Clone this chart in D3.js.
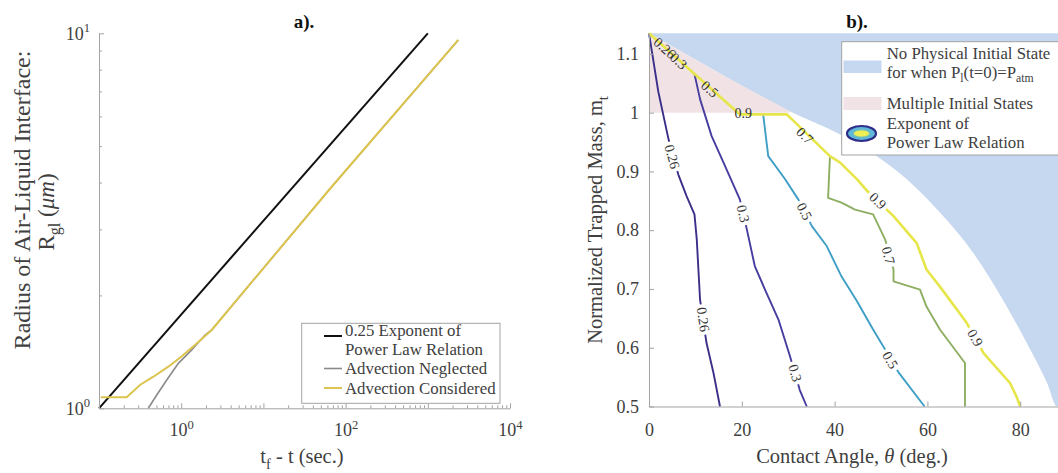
<!DOCTYPE html>
<html><head><meta charset="utf-8">
<script src="https://cdn.jsdelivr.net/npm/d3@7"></script>
<style>
body{margin:0;background:#fff}
svg{display:block}
text{font-family:"Liberation Serif","Times New Roman",serif}
</style>
</head><body>
<svg id="c" width="1058" height="473"></svg>
<script>
// ---------- Panel a) data ----------
const powerLawT = [0.1, 1000];
const powerLawR = [1, 10];
const neglectedT = [0.398, 0.504, 0.667, 0.923, 1.343, 1.95, 2.35, 64.6, 2350];
const neglectedR = [1.0, 1.085, 1.19, 1.318, 1.431, 1.568, 1.618, 3.85, 9.6];
const consideredT = [0.105, 0.217, 0.315, 0.458, 0.697, 1.0, 1.47, 2.35, 64.6, 2350];
const consideredR = [1.07, 1.07, 1.154, 1.214, 1.291, 1.373, 1.475, 1.618, 3.85, 9.6];
const xMajorTicksL = [0.1, 1, 10, 100, 1000, 10000];
const xLabelledTicksL = [1, 100, 10000];
const yTicksL = [1, 10];
const legendA = ["0.25 Exponent of|Power Law Relation", "Advection Neglected", "Advection Considered"];

// ---------- Panel b) data ----------
const boundaryTheta = [0, 15, 30.4, 41.2, 48.3, 55.5, 62.7, 69.9, 77.1, 81.4, 85.8, 88, 90];
const boundaryMass  = [1.135, 1.068, 1.002, 0.963, 0.930, 0.887, 0.830, 0.761, 0.670, 0.608, 0.540, 0.5, 0.5];
const multipleTheta = [0, 15, 30.4];
const multipleMass  = [1.135, 1.068, 1.002];
const multipleFloor = 1.0;
const levels = ["0.26", "0.3", "0.5", "0.7", "0.9"];
const c026 = [[0,1.135],[2.0,1.036],[4.2,0.955],[6.3,0.895],[8.1,0.858],[9.8,0.827],[10.3,0.784],[11.0,0.682],[12.4,0.608],[13.9,0.557],[15.3,0.5]];
const c03  = [[9.8,1.066],[11.0,1.023],[13.5,0.960],[16.4,0.909],[19.6,0.852],[21.1,0.801],[22.8,0.739],[25.0,0.699],[27.9,0.648],[30.4,0.585],[32.5,0.528],[34.0,0.5]];
const c05  = [[24.6,0.997],[25.7,0.926],[29.3,0.887],[32.2,0.852],[35.1,0.807],[38.3,0.773],[41.5,0.721],[44.6,0.682],[48.3,0.631],[50.5,0.602],[53.7,0.559],[59.1,0.503],[59.4,0.5]];
const c07  = [[39.0,0.926],[38.6,0.855],[41.5,0.847],[44.4,0.835],[48.3,0.827],[50.9,0.784],[52.7,0.733],[52.7,0.713],[58.4,0.699],[59.8,0.670],[62.7,0.631],[68.1,0.574],[68.1,0.5]];
const c09  = [[0,1.135],[19.6,0.997],[29.7,0.997],[39.0,0.926],[41.2,0.915],[44.8,0.887],[47.0,0.867],[52.7,0.824],[57.7,0.778],[59.8,0.733],[62.7,0.704],[68.5,0.642],[72.1,0.591],[77.8,0.540],[79.2,0.517],[80.0,0.5]];
const lab026 = [[5.0,0.925],[11.7,0.648]];
const lab03  = [[20.3,0.828],[31.5,0.557]];
const lab05  = [[33.5,0.832],[52.0,0.579]];
const lab07  = [[51.6,0.757]];
const lab09  = [[49.3,0.850],[70.3,0.617]];
const bandLabelText  = ["0.26", "0.3", "0.5", "0.9", "0.7"];
const bandLabelTheta = [3.4, 6.4, 13.1, 20.3, 33.6];
const bandLabelMass  = [1.110, 1.088, 1.040, 0.999, 0.961];
const xTicksR = [0, 20, 40, 60, 80];
const yTicksR = [0.5, 0.6, 0.7, 0.8, 0.9, 1.0, 1.1];
const legendB = ["No Physical Initial State", "for when P", "Multiple Initial States", "Exponent of", "Power Law Relation"];

// ---------- styles ----------
const TXT = "#404040", AX = "#a3a3a3";
const FS_TICK = 18, FS_LAB = 20.5, FS_YLAB_A = 24, FS_LEG = 16.8, FS_TITLE = 19, FS_CL = 14;
const contourColors = ["#3b3089", "#463d9f", "#3f9fc6", "#8eae62", "#e6e64a"];
const BLUE = "#c6d8f0", PINK = "#f1e3e5";

const svg = d3.select("#c");

function rich(sel, parts, fs) {
  let shift = 0;
  parts.forEach(p => {
    const ts = sel.append("tspan").text(p.t);
    let target = 0, size = fs;
    if (p.sub) { target = 0.28 * fs; size = 0.7 * fs; }
    if (p.sup) { target = -0.42 * fs; size = 0.7 * fs; }
    if (target !== shift) { ts.attr("dy", target - shift); shift = target; }
    if (size !== fs) ts.attr("font-size", size);
    if (p.it) ts.attr("font-style", "italic");
  });
  return sel;
}

// ================= Panel a =================
const xL = d3.scaleLog().domain([0.1, 1e4]).range([99, 510]);
const yL = d3.scaleLog().domain([1, 10]).range([408.3, 33.3]);
const lineL = d3.line().x(d => xL(d[0])).y(d => yL(d[1]));
const gA = svg.append("g");

gA.append("path").datum(powerLawT.map((t, i) => [t, powerLawR[i]]))
  .attr("d", lineL).attr("fill", "none").attr("stroke", "#111").attr("stroke-width", 2);
gA.append("path").datum(neglectedT.map((t, i) => [t, neglectedR[i]]))
  .attr("d", lineL).attr("fill", "none").attr("stroke", "#8a8a8a").attr("stroke-width", 1.6);
gA.append("path").datum(consideredT.map((t, i) => [t, consideredR[i]]))
  .attr("d", lineL).attr("fill", "none").attr("stroke", "#dcc44e").attr("stroke-width", 2);

const minorX = [], minorY = [];
for (let e = -1; e < 4; e++) for (let k = 2; k <= 9; k++) minorX.push(k * Math.pow(10, e));
for (let k = 2; k <= 9; k++) minorY.push(k);

const axXL = gA.append("g").attr("transform", "translate(0,408.3)")
  .call(d3.axisBottom(xL).tickValues(xMajorTicksL).tickSizeInner(-5).tickSizeOuter(0).tickPadding(15).tickFormat(() => ""));
gA.append("g").attr("transform", "translate(0,408.3)")
  .call(d3.axisBottom(xL).tickValues(minorX).tickSizeInner(-3).tickSizeOuter(0).tickFormat(() => ""))
  .call(g => g.select(".domain").remove());
axXL.selectAll(".tick text").each(function(d) {
  if (xLabelledTicksL.indexOf(d) < 0) return;
  rich(d3.select(this), [{t: "10"}, {t: String(Math.round(Math.log10(d))), sup: true}], FS_TICK);
});
const axYL = gA.append("g").attr("transform", "translate(99,0)")
  .call(d3.axisLeft(yL).tickValues(yTicksL).tickSizeInner(-5).tickSizeOuter(0).tickPadding(9).tickFormat(() => ""));
gA.append("g").attr("transform", "translate(99,0)")
  .call(d3.axisLeft(yL).tickValues(minorY).tickSizeInner(-3).tickSizeOuter(0).tickFormat(() => ""))
  .call(g => g.select(".domain").remove());
axYL.selectAll(".tick text").each(function(d) {
  rich(d3.select(this), [{t: "10"}, {t: String(Math.round(Math.log10(d))), sup: true}], FS_TICK);
});

gA.append("text").attr("x", 304).attr("y", 28).attr("text-anchor", "middle")
  .attr("font-size", FS_TITLE).attr("font-weight", "bold").attr("fill", "#111").text("a).");
rich(gA.append("text").attr("x", 302).attr("y", 463).attr("text-anchor", "middle")
  .attr("font-size", FS_LAB).attr("fill", TXT),
  [{t: "t"}, {t: "f", sub: true}, {t: " - t (sec.)"}], FS_LAB);
gA.append("text").attr("transform", "translate(30,200) rotate(-90)").attr("text-anchor", "middle")
  .attr("font-size", FS_YLAB_A).attr("fill", TXT).text("Radius of Air-Liquid Interface:");
rich(gA.append("text").attr("transform", "translate(54,212) rotate(-90)").attr("text-anchor", "middle")
  .attr("font-size", 23).attr("fill", TXT),
  [{t: "R"}, {t: "gl", sub: true}, {t: " ("}, {t: "μm", it: true}, {t: ")"}], 23);

// legend a
const legA = gA.append("g");
legA.append("rect").attr("x", 301.7).attr("y", 323.3).attr("width", 198.3).attr("height", 80)
  .attr("fill", "#fff").attr("stroke", AX).attr("stroke-width", 1);
const legAy = [336, 374, 393.5];
const legAline = [336, 368.5, 388];
const legAcol = ["#111", "#8a8a8a", "#dcc44e"];
const legAw = [2, 1.6, 2];
legendA.forEach((s, i) => {
  legA.append("line").attr("x1", 324).attr("x2", 342).attr("y1", legAline[i]).attr("y2", legAline[i])
    .attr("stroke", legAcol[i]).attr("stroke-width", legAw[i]);
  s.split("|").forEach((ln, j) => {
    legA.append("text").attr("x", 345).attr("y", legAy[i] + j * 18.5).attr("font-size", FS_LEG)
      .attr("fill", TXT).text(ln);
  });
});

// ================= Panel b =================
const xR = d3.scaleLinear().domain([0, 90]).range([649, 1066.6]);
const yR = d3.scaleLinear().domain([0.5, 1.135]).range([406.5, 33.3]);
const gB = svg.append("g");

const blueArea = d3.area().x(d => xR(d[0])).y0(yR(1.135)).y1(d => yR(d[1])).curve(d3.curveMonotoneX);
gB.append("path").attr("d", blueArea(boundaryTheta.map((t, i) => [t, boundaryMass[i]]))).attr("fill", BLUE);
const pinkArea = d3.area().x(d => xR(d[0])).y0(yR(multipleFloor)).y1(d => yR(d[1])).curve(d3.curveMonotoneX);
gB.append("path").attr("d", pinkArea(multipleTheta.map((t, i) => [t, multipleMass[i]]))).attr("fill", PINK);

const contours = [c026, c03, c05, c07, c09];
const contourLabels = [lab026, lab03, lab05, lab07, lab09];
const lineC = d3.line().x(d => xR(d[0])).y(d => yR(d[1]));
contours.forEach((c, i) => {
  gB.append("path").attr("d", lineC(c)).attr("fill", "none")
    .attr("stroke", contourColors[i]).attr("stroke-width", i === 4 ? 2.6 : 1.9)
    .attr("stroke-linejoin", "round");
});

function angleOn(poly, p) {
  const px = xR(p[0]), py = yR(p[1]);
  let best = 1e9, ang = 0;
  for (let i = 0; i < poly.length - 1; i++) {
    const ax = xR(poly[i][0]), ay = yR(poly[i][1]), bx = xR(poly[i+1][0]), by = yR(poly[i+1][1]);
    const dx = bx - ax, dy = by - ay, L2 = dx*dx + dy*dy || 1;
    let u = ((px-ax)*dx + (py-ay)*dy) / L2; u = Math.max(0, Math.min(1, u));
    const qx = ax + u*dx, qy = ay + u*dy, dd = (px-qx)**2 + (py-qy)**2;
    if (dd < best) { best = dd; let a = Math.atan2(dy, dx) * 180 / Math.PI; if (a > 90) a -= 180; if (a < -90) a += 180; ang = a; }
  }
  return ang;
}
function clabel(txt, p, poly, gap) {
  const g = gB.append("g").attr("transform", `translate(${xR(p[0])},${yR(p[1])}) rotate(${angleOn(poly, p)})`);
  const r = g.append("rect");
  const t = g.append("text").attr("text-anchor", "middle").attr("dy", "0.34em")
    .attr("font-size", FS_CL).attr("fill", "#333").text(txt);
  if (gap) {
    const w = t.node().getComputedTextLength() + 6;
    r.attr("x", -w/2).attr("y", -6).attr("width", w).attr("height", 12).attr("fill", "#fff");
  } else r.remove();
}
contourLabels.forEach((labs, i) => labs.forEach(p => clabel(levels[i], p, contours[i], true)));
bandLabelText.forEach((s, i) => clabel(s, [bandLabelTheta[i], bandLabelMass[i]], c09, false));

gB.append("g").attr("transform", "translate(0,406.5)")
  .call(d3.axisBottom(xR).tickValues(xTicksR).tickSizeInner(-5).tickSizeOuter(0).tickPadding(16.5).tickFormat(d3.format("d")));
gB.append("g").attr("transform", "translate(649,0)")
  .call(d3.axisLeft(yR).tickValues(yTicksR).tickSizeInner(-5).tickSizeOuter(0).tickPadding(10).tickFormat(d3.format("~g")));

gB.append("text").attr("x", 857).attr("y", 28).attr("text-anchor", "middle")
  .attr("font-size", FS_TITLE).attr("font-weight", "bold").attr("fill", "#111").text("b).");
rich(gB.append("text").attr("x", 852).attr("y", 463).attr("text-anchor", "middle")
  .attr("font-size", FS_LAB).attr("fill", TXT),
  [{t: "Contact Angle, "}, {t: "θ", it: true}, {t: " (deg.)"}], FS_LAB);
rich(gB.append("text").attr("transform", "translate(602,220) rotate(-90)").attr("text-anchor", "middle")
  .attr("font-size", FS_LAB).attr("fill", TXT),
  [{t: "Normalized Trapped Mass, m"}, {t: "t", sub: true}], FS_LAB);

// legend b
const legB = gB.append("g");
legB.append("rect").attr("x", 841.7).attr("y", 41.7).attr("width", 222).attr("height", 113.3)
  .attr("fill", "#fff").attr("stroke", AX).attr("stroke-width", 1);
legB.append("rect").attr("x", 843.5).attr("y", 60.5).attr("width", 38).attr("height", 12.5).attr("fill", BLUE);
legB.append("rect").attr("x", 843.5).attr("y", 97).attr("width", 38).attr("height", 13).attr("fill", PINK);
legB.append("ellipse").attr("cx", 861.5).attr("cy", 133.5).attr("rx", 14.5).attr("ry", 7.5)
  .attr("fill", "#5fb8d8").attr("stroke", "#2e2d8a").attr("stroke-width", 2.2);
legB.append("ellipse").attr("cx", 861.5).attr("cy", 133.5).attr("rx", 8).attr("ry", 3.6)
  .attr("fill", "#eeee55").attr("stroke", "#7fc6a8").attr("stroke-width", 1);
const legBy = [59, 77.5, 108.5, 129, 148];
legendB.forEach((s, i) => {
  const t = legB.append("text").attr("x", 886.7).attr("y", legBy[i]).attr("font-size", FS_LEG).attr("fill", TXT);
  if (i === 1) rich(t, [{t: "for when P"}, {t: "l", sub: true}, {t: "(t=0)=P"}, {t: "atm", sub: true}], FS_LEG);
  else t.text(s);
});

svg.selectAll(".domain").attr("stroke", AX);
svg.selectAll(".tick line").attr("stroke", AX);
svg.selectAll(".tick text").attr("font-size", FS_TICK).attr("fill", TXT)
  .attr("font-family", '"Liberation Serif","Times New Roman",serif');
</script>
</body></html>
